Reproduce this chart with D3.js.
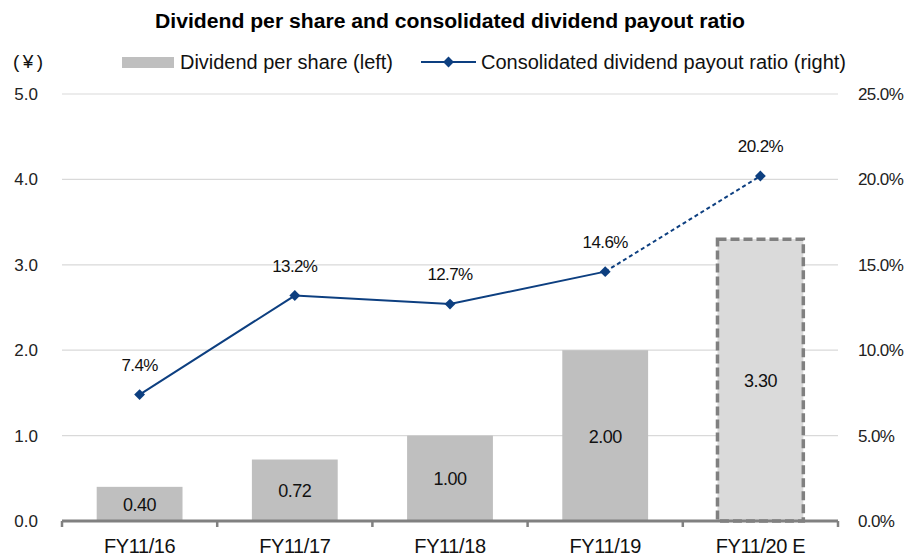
<!DOCTYPE html>
<html>
<head>
<meta charset="utf-8">
<script src="https://cdn.jsdelivr.net/npm/d3@7"></script>
<style>
  body { margin: 0; background: #fff; }
  svg { display: block; }
</style>
</head>
<body>
<div id="chart"></div>
<script>
const categories = ['FY11/16', 'FY11/17', 'FY11/18', 'FY11/19', 'FY11/20 E']
const dividends = [0.40, 0.72, 1.00, 2.00, 3.30]
const payoutRatios = [7.4, 13.2, 12.7, 14.6, 20.2]
const leftTicks = [0, 1, 2, 3, 4, 5]
const rightTicks = [0, 5, 10, 15, 20, 25]
const estimateIndex = 4

const width = 908
const height = 559
const margin = { top: 94, right: 70, bottom: 38, left: 62 }
const innerWidth = width - margin.left - margin.right
const innerHeight = height - margin.top - margin.bottom

const sans = '"Liberation Sans", Arial, sans-serif'
const navy = '#0d3f80'

const svg = d3.select('#chart').append('svg')
    .attr('width', width)
    .attr('height', height)

const g = svg.append('g')
    .attr('transform', `translate(${margin.left}, ${margin.top})`)

const x = d3.scaleBand().domain(categories).range([0, innerWidth]).paddingInner(0.447).paddingOuter(0.2235)
const yLeft = d3.scaleLinear().domain([0, 5]).range([innerHeight, 0])
const yRight = d3.scaleLinear().domain([0, 25]).range([innerHeight, 0])

// gridlines
g.selectAll('.grid').data(leftTicks.filter(d => d > 0)).enter().append('line')
    .attr('x1', 0).attr('x2', innerWidth)
    .attr('y1', d => yLeft(d)).attr('y2', d => yLeft(d))
    .attr('stroke', '#d9d9d9').attr('stroke-width', 1.2)

// left tick labels
g.selectAll('.lt').data(leftTicks).enter().append('text')
    .text(d => d.toFixed(1))
    .attr('x', -24).attr('y', d => yLeft(d) + 6)
    .attr('text-anchor', 'end')
    .attr('font-family', sans).attr('font-size', 17).attr('fill', '#222')

// right tick labels
g.selectAll('.rt').data(rightTicks).enter().append('text')
    .text(d => d.toFixed(1) + '%')
    .attr('x', innerWidth + 20).attr('y', d => yRight(d) + 6)
    .attr('font-family', sans).attr('font-size', 17).attr('fill', '#222')
    .attr('letter-spacing', -0.6)

// bars
g.selectAll('.bar').data(dividends).enter().append('rect')
    .attr('x', (d, i) => x(categories[i]))
    .attr('y', d => yLeft(d))
    .attr('width', x.bandwidth())
    .attr('height', d => yLeft(0) - yLeft(d))
    .attr('fill', (d, i) => i === estimateIndex ? '#dadada' : '#bfbfbf')
    .attr('stroke', (d, i) => i === estimateIndex ? '#808080' : 'none')
    .attr('stroke-width', 3.5)
    .attr('stroke-dasharray', '9,4')

// bar labels
g.selectAll('.bl').data(dividends).enter().append('text')
    .text(d => d.toFixed(2))
    .attr('x', (d, i) => x(categories[i]) + x.bandwidth() / 2)
    .attr('y', d => (yLeft(d) + yLeft(0)) / 2 + 7)
    .attr('text-anchor', 'middle')
    .attr('font-family', sans).attr('font-size', 18).attr('fill', '#111')
    .attr('letter-spacing', -0.5)

// x axis
const xAxis = g.append('g').attr('transform', `translate(0, ${innerHeight})`)
xAxis.append('line')
    .attr('x1', 0).attr('x2', innerWidth)
    .attr('stroke', '#808080').attr('stroke-width', 3)
const bounds = categories.map(c => x(c) - x.step() * x.paddingInner() / 2).concat([innerWidth])
xAxis.selectAll('.tick').data(bounds).enter().append('line')
    .attr('x1', d => d).attr('x2', d => d)
    .attr('y1', 0).attr('y2', 6)
    .attr('stroke', '#808080').attr('stroke-width', 2.5)
xAxis.selectAll('.xl').data(categories).enter().append('text')
    .text(d => d)
    .attr('x', d => x(d) + x.bandwidth() / 2)
    .attr('y', 32)
    .attr('text-anchor', 'middle')
    .attr('font-family', sans).attr('font-size', 20).attr('fill', '#111')
    .attr('letter-spacing', -0.4)

// line
const pts = payoutRatios.map((d, i) => [x(categories[i]) + x.bandwidth() / 2, yRight(d)])
const line = d3.line()
g.append('path')
    .attr('d', line(pts.slice(0, estimateIndex)))
    .attr('fill', 'none').attr('stroke', navy).attr('stroke-width', 2)
g.append('path')
    .attr('d', line(pts.slice(estimateIndex - 1)))
    .attr('fill', 'none').attr('stroke', navy).attr('stroke-width', 2)
    .attr('stroke-dasharray', '4,3')

const diamond = d3.symbol().type(d3.symbolDiamond2).size(75)
g.selectAll('.pt').data(pts).enter().append('path')
    .attr('d', diamond)
    .attr('transform', d => `translate(${d[0]}, ${d[1]})`)
    .attr('fill', navy)

g.selectAll('.pl').data(payoutRatios).enter().append('text')
    .text(d => d.toFixed(1) + '%')
    .attr('x', (d, i) => pts[i][0])
    .attr('y', d => yRight(d) - 24)
    .attr('text-anchor', 'middle')
    .attr('font-family', sans).attr('font-size', 17).attr('fill', '#111')
    .attr('letter-spacing', -0.6)

// title
svg.append('text')
    .text('Dividend per share and consolidated dividend payout ratio')
    .attr('x', 155).attr('y', 28)
    .attr('textLength', 590).attr('lengthAdjust', 'spacingAndGlyphs')
    .attr('font-family', sans).attr('font-size', 20).attr('font-weight', 'bold')
    .attr('fill', '#000')

// legend
svg.append('text').text('(¥)')
    .attr('x', 13).attr('y', 68)
    .attr('textLength', 30).attr('lengthAdjust', 'spacing')
    .attr('font-family', sans).attr('font-size', 19).attr('fill', '#111')
svg.append('rect')
    .attr('x', 122).attr('y', 57).attr('width', 52).attr('height', 11)
    .attr('fill', '#bfbfbf')
svg.append('text').text('Dividend per share (left)')
    .attr('x', 180).attr('y', 69)
    .attr('textLength', 213).attr('lengthAdjust', 'spacingAndGlyphs')
    .attr('font-family', sans).attr('font-size', 20).attr('fill', '#111')
svg.append('line')
    .attr('x1', 421).attr('x2', 476).attr('y1', 62).attr('y2', 62)
    .attr('stroke', navy).attr('stroke-width', 2)
svg.append('path')
    .attr('d', diamond)
    .attr('transform', 'translate(448.5, 62)')
    .attr('fill', navy)
svg.append('text').text('Consolidated dividend payout ratio (right)')
    .attr('x', 481).attr('y', 69)
    .attr('textLength', 365).attr('lengthAdjust', 'spacingAndGlyphs')
    .attr('font-family', sans).attr('font-size', 20).attr('fill', '#111')
</script>
</body>
</html>
